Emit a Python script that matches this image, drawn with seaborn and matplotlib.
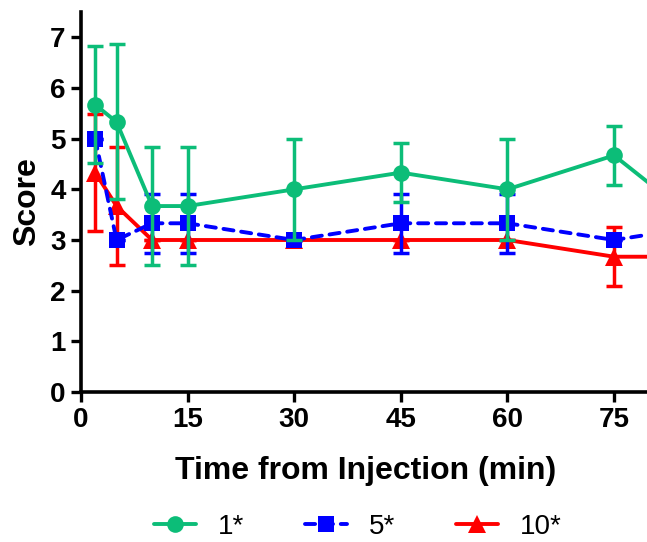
import matplotlib
matplotlib.use("Agg")
import matplotlib.pyplot as plt
import seaborn as sns
import pandas as pd
import numpy as np

# ---- data ----
time_min = [2, 5, 10, 15, 30, 45, 60, 75, 90]
labels = ["1*", "5*", "10*"]
score_1 = [5.67, 5.33, 3.67, 3.67, 4.00, 4.33, 4.00, 4.67, 3.00]
err_1   = [1.15, 1.53, 1.17, 1.17, 1.00, 0.58, 1.00, 0.58, 0.00]
score_5 = [5.00, 3.00, 3.33, 3.33, 3.00, 3.33, 3.33, 3.00, 3.33]
err_5   = [0.00, 0.00, 0.58, 0.58, 0.00, 0.58, 0.58, 0.00, 0.00]
score_10 = [4.33, 3.67, 3.00, 3.00, 3.00, 3.00, 3.00, 2.67, 2.67]
err_10   = [1.15, 1.17, 0.00, 0.00, 0.00, 0.00, 0.00, 0.58, 0.00]

x_ticks = [0, 15, 30, 45, 60, 75]
y_ticks = [0, 1, 2, 3, 4, 5, 6, 7]

sns.set_style("ticks")
plt.rcParams["font.family"] = ["Liberation Sans", "DejaVu Sans"]
plt.rcParams["text.color"] = "black"
plt.rcParams["axes.labelcolor"] = "black"
plt.rcParams["xtick.color"] = "black"
plt.rcParams["ytick.color"] = "black"

fig = plt.figure(figsize=(6.47, 5.42), dpi=100)
ax = fig.add_axes([81 / 647, 150 / 542, 568.6 / 647, 380 / 542])

series = [
    (labels[2], score_10, err_10, "#ff0000", "^", "-", 1, 12.5),
    (labels[1], score_5, err_5, "#0000ff", "s", (0, (2.6, 2.0)), 2, 11),
    (labels[0], score_1, err_1, "#0cbd78", "o", "-", 3, 12),
]

handles = {}
for name, vals, errs, col, mk, ls, z, ms in series:
    df = pd.DataFrame({"time": time_min, "score": vals})
    ax.errorbar(time_min, vals, yerr=errs, fmt="none", ecolor=col,
                elinewidth=2.5, capsize=5.5, capthick=2.5, zorder=z)
    sns.lineplot(data=df, x="time", y="score", ax=ax, color=col,
                 marker=mk, markersize=ms,
                 markeredgewidth=0, linewidth=2.8, zorder=z + 0.5,
                 label=name, errorbar=None)
    line = ax.lines[-1]
    line.set_linestyle(ls)
    line.set_dash_capstyle("round")
    handles[name] = line

ax.set_xlim(0, 80)
ax.set_ylim(0, 7.5)
ax.set_xticks(x_ticks)
ax.set_yticks(y_ticks)
for s in ["top", "right"]:
    ax.spines[s].set_visible(False)
for s in ["left", "bottom"]:
    ax.spines[s].set_linewidth(2.6)
    ax.spines[s].set_color("black")
ax.tick_params(axis="both", direction="out", length=7, width=2.4,
               labelsize=20, color="black", labelcolor="black", pad=4)
for t in ax.get_xticklabels() + ax.get_yticklabels():
    t.set_fontweight("bold")

ax.set_xlabel("Time from Injection (min)", fontsize=23, fontweight="bold",
              labelpad=16, color="black")
ax.set_ylabel("Score", fontsize=23, fontweight="bold", labelpad=6, color="black")

if ax.get_legend():
    ax.get_legend().remove()
fig.legend([handles[l] for l in labels], labels, loc="center",
           bbox_to_anchor=(358 / 647, 1 - 527 / 542), ncol=3, frameon=False,
           fontsize=20, handlelength=1.5, handletextpad=0.8, columnspacing=2.2)

fig.savefig("out.png", dpi=100)
